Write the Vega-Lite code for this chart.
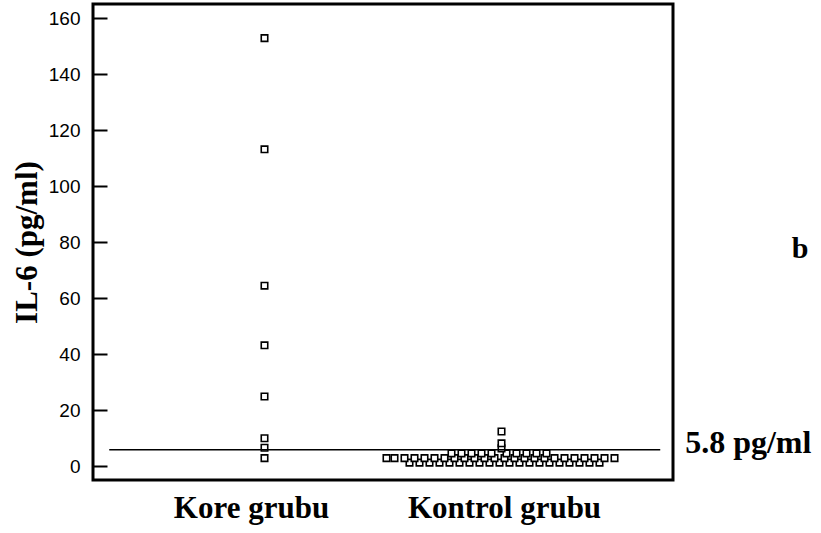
{
  "$schema": "https://vega.github.io/schema/vega-lite/v6.json",
  "autosize": "none",
  "width": 580,
  "height": 476,
  "padding": {"left": 93, "top": 4, "right": 148, "bottom": 53},
  "background": "white",
  "config": {
    "view": {"stroke": "black", "strokeWidth": 3},
    "font": "Liberation Sans"
  },
  "datasets": {
    "points": [
      {"grup": "Kore grubu", "sira": 0, "il6": 152.8},
      {"grup": "Kore grubu", "sira": 0, "il6": 113.1},
      {"grup": "Kore grubu", "sira": 0, "il6": 64.4},
      {"grup": "Kore grubu", "sira": 0, "il6": 43.1},
      {"grup": "Kore grubu", "sira": 0, "il6": 24.8},
      {"grup": "Kore grubu", "sira": 0, "il6": 9.9},
      {"grup": "Kore grubu", "sira": 0, "il6": 6.5},
      {"grup": "Kore grubu", "sira": 0, "il6": 2.8},
      {"grup": "Kontrol grubu", "sira": -9.2, "il6": 1.2},
      {"grup": "Kontrol grubu", "sira": -8.2, "il6": 1.2},
      {"grup": "Kontrol grubu", "sira": -7.2, "il6": 1.2},
      {"grup": "Kontrol grubu", "sira": -6.2, "il6": 1.2},
      {"grup": "Kontrol grubu", "sira": -5.2, "il6": 1.2},
      {"grup": "Kontrol grubu", "sira": -4.2, "il6": 1.2},
      {"grup": "Kontrol grubu", "sira": -3.2, "il6": 1.2},
      {"grup": "Kontrol grubu", "sira": -2.2, "il6": 1.2},
      {"grup": "Kontrol grubu", "sira": -1.2, "il6": 1.2},
      {"grup": "Kontrol grubu", "sira": -0.2, "il6": 1.2},
      {"grup": "Kontrol grubu", "sira": 0.8, "il6": 1.2},
      {"grup": "Kontrol grubu", "sira": 1.8, "il6": 1.2},
      {"grup": "Kontrol grubu", "sira": 2.8, "il6": 1.2},
      {"grup": "Kontrol grubu", "sira": 3.8, "il6": 1.2},
      {"grup": "Kontrol grubu", "sira": 4.8, "il6": 1.2},
      {"grup": "Kontrol grubu", "sira": 5.8, "il6": 1.2},
      {"grup": "Kontrol grubu", "sira": 6.8, "il6": 1.2},
      {"grup": "Kontrol grubu", "sira": 7.8, "il6": 1.2},
      {"grup": "Kontrol grubu", "sira": 8.8, "il6": 1.2},
      {"grup": "Kontrol grubu", "sira": 9.8, "il6": 1.2},
      {"grup": "Kontrol grubu", "sira": -11.5, "il6": 2.8},
      {"grup": "Kontrol grubu", "sira": -10.7, "il6": 2.8},
      {"grup": "Kontrol grubu", "sira": -9.7, "il6": 2.8},
      {"grup": "Kontrol grubu", "sira": -8.7, "il6": 2.8},
      {"grup": "Kontrol grubu", "sira": -7.7, "il6": 2.8},
      {"grup": "Kontrol grubu", "sira": -6.7, "il6": 2.8},
      {"grup": "Kontrol grubu", "sira": -5.7, "il6": 2.8},
      {"grup": "Kontrol grubu", "sira": -4.7, "il6": 2.8},
      {"grup": "Kontrol grubu", "sira": -3.7, "il6": 2.8},
      {"grup": "Kontrol grubu", "sira": -2.7, "il6": 2.8},
      {"grup": "Kontrol grubu", "sira": -1.7, "il6": 2.8},
      {"grup": "Kontrol grubu", "sira": -0.7, "il6": 2.8},
      {"grup": "Kontrol grubu", "sira": 0.3, "il6": 2.8},
      {"grup": "Kontrol grubu", "sira": 1.3, "il6": 2.8},
      {"grup": "Kontrol grubu", "sira": 2.3, "il6": 2.8},
      {"grup": "Kontrol grubu", "sira": 3.3, "il6": 2.8},
      {"grup": "Kontrol grubu", "sira": 4.3, "il6": 2.8},
      {"grup": "Kontrol grubu", "sira": 5.3, "il6": 2.8},
      {"grup": "Kontrol grubu", "sira": 6.3, "il6": 2.8},
      {"grup": "Kontrol grubu", "sira": 7.3, "il6": 2.8},
      {"grup": "Kontrol grubu", "sira": 8.3, "il6": 2.8},
      {"grup": "Kontrol grubu", "sira": 9.3, "il6": 2.8},
      {"grup": "Kontrol grubu", "sira": 10.3, "il6": 2.8},
      {"grup": "Kontrol grubu", "sira": 11.3, "il6": 2.8},
      {"grup": "Kontrol grubu", "sira": -5.0, "il6": 4.5},
      {"grup": "Kontrol grubu", "sira": -4.0, "il6": 4.5},
      {"grup": "Kontrol grubu", "sira": -3.0, "il6": 4.5},
      {"grup": "Kontrol grubu", "sira": -2.0, "il6": 4.5},
      {"grup": "Kontrol grubu", "sira": -1.0, "il6": 4.5},
      {"grup": "Kontrol grubu", "sira": 0.5, "il6": 4.5},
      {"grup": "Kontrol grubu", "sira": 1.5, "il6": 4.5},
      {"grup": "Kontrol grubu", "sira": 2.5, "il6": 4.5},
      {"grup": "Kontrol grubu", "sira": 3.5, "il6": 4.5},
      {"grup": "Kontrol grubu", "sira": 4.5, "il6": 4.5},
      {"grup": "Kontrol grubu", "sira": 0, "il6": 6.3},
      {"grup": "Kontrol grubu", "sira": 0, "il6": 8.1},
      {"grup": "Kontrol grubu", "sira": 0, "il6": 12.3}
    ],
    "cutoff": [
      {"basla": 0.028, "bit": 0.978, "deger": 5.8, "etiket": "5.8 pg/ml", "etiketx": 1.021}
    ],
    "panel": [
      {"px": 1.219, "py": 74.3, "harf": "b"}
    ]
  },
  "resolve": {"scale": {"x": "independent"}, "axis": {"x": "independent"}},
  "layer": [
    {
      "data": {"name": "points"},
      "mark": {"type": "point", "shape": "square", "filled": false, "fill": "white", "fillOpacity": 1, "stroke": "black", "strokeWidth": 1.6, "size": 42, "opacity": 1},
      "encoding": {
        "x": {
          "field": "grup", "type": "nominal",
          "sort": ["Kore grubu", "Kontrol grubu"],
          "scale": {"paddingInner": 0, "paddingOuter": 0.2236},
          "axis": {
            "title": null, "ticks": false, "domain": false, "labelAngle": 0,
            "labelFont": "Liberation Serif", "labelFontSize": 31, "labelFontWeight": "bold",
            "labelColor": "black", "labelPadding": 13, "labelLimit": 0,
            "labelOffset": {"condition": {"test": "datum.value === 'Kore grubu'", "value": -13}, "value": 3}
          }
        },
        "xOffset": {"field": "sira", "type": "quantitative", "scale": {"domain": [-11.85, 11.85]}},
        "y": {
          "field": "il6", "type": "quantitative",
          "scale": {"domain": [-5, 165], "nice": false, "zero": false},
          "axis": {
            "values": [0,5,10,15,20,25,30,35,40,45,50,55,60,65,70,75,80,85,90,95,100,105,110,115,120,125,130,135,140,145,150,155,160],
            "labelExpr": "datum.value % 20 === 0 ? datum.label : ''",
            "labelOverlap": false,
            "tickSize": {"condition": {"test": "datum.value % 20 === 0", "value": -14}, "value": -8},
            "tickWidth": 2, "tickColor": "black",
            "domain": false, "grid": false,
            "labelFont": "Liberation Sans", "labelFontSize": 19, "labelColor": "black",
            "labelPadding": 27,
            "title": "IL-6 (pg/ml)",
            "titleFont": "Liberation Serif", "titleFontSize": 31, "titleFontWeight": "bold",
            "titleColor": "black", "titlePadding": 5
          }
        }
      }
    },
    {
      "data": {"name": "cutoff"},
      "mark": {"type": "rule", "color": "black", "strokeWidth": 1.5},
      "encoding": {
        "x": {"field": "basla", "type": "quantitative", "scale": {"domain": [0, 1]}, "axis": null},
        "x2": {"field": "bit"},
        "y": {"field": "deger", "type": "quantitative"}
      }
    },
    {
      "data": {"name": "cutoff"},
      "mark": {"type": "text", "align": "left", "baseline": "alphabetic", "dy": 3, "font": "Liberation Serif", "fontSize": 32, "fontWeight": "bold", "color": "black"},
      "encoding": {
        "x": {"field": "etiketx", "type": "quantitative", "scale": {"domain": [0, 1]}, "axis": null},
        "y": {"field": "deger", "type": "quantitative"},
        "text": {"field": "etiket"}
      }
    },
    {
      "data": {"name": "panel"},
      "mark": {"type": "text", "align": "center", "baseline": "alphabetic", "font": "Liberation Serif", "fontSize": 30, "fontWeight": "bold", "color": "black"},
      "encoding": {
        "x": {"field": "px", "type": "quantitative", "scale": {"domain": [0, 1]}, "axis": null},
        "y": {"field": "py", "type": "quantitative"},
        "text": {"field": "harf"}
      }
    }
  ]
}
